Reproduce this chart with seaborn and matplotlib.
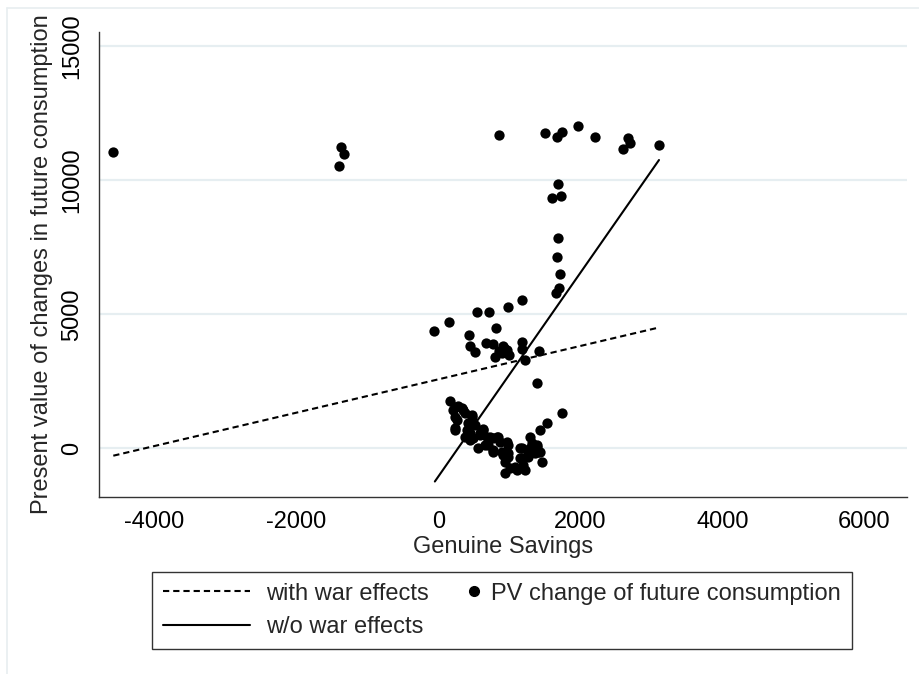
import matplotlib
matplotlib.use("Agg")
import matplotlib.pyplot as plt
import seaborn as sns
import pandas as pd
from matplotlib.lines import Line2D
from matplotlib.legend_handler import HandlerLine2D

# ---- data ----
pv_x = [-4579, -1372, -1331, -1397,
        854, 1497, 1666, 1745, 1962, 2210, 2596, 2666, 2699, 3107,
        1689, 1596, 1722, 1689, 1675, 1713, 1703, 1652,
        -58, 145, 539, 713, 976, 1173, 431, 811, 445, 515, 670, 773, 914, 970,
        892, 797, 1173, 1173, 1220, 1417, 1393, 860, 930, 1000,
        163, 234, 281, 328, 210, 351, 375, 469, 469, 258, 234, 234, 234, 399,
        421, 515, 632, 632, 445, 586, 375, 492, 586, 680, 727, 773, 821, 844,
        868, 962, 985, 445, 562, 656, 703, 773, 773, 892, 914, 985, 985, 938,
        938, 1008, 1079, 1103, 1196, 1220, 1173, 1149, 1173, 1290, 1290, 1385,
        1385, 1407, 1431, 1455, 1149, 1266, 1266, 1361, 1314, 1431, 1525, 1737]
pv_y = [11051, 11245, 10988, 10540,
        11704, 11779, 11607, 11794, 12040, 11607, 11160, 11592, 11383, 11309,
        9854, 9331, 9417, 7839, 7152, 6507, 5973, 5787,
        4391, 4727, 5078, 5100, 5287, 5537, 4220, 4503, 3820, 3608, 3921, 3895, 3820, 3671,
        3548, 3399, 3959, 3697, 3298, 3634, 2451, 3650, 3750, 3500,
        1768, 1556, 1582, 1496, 1433, 1433, 1310, 1246, 1183, 1060, 1183, 750, 686, 686,
        936, 873, 713, 686, 563, 563, 437, 377, 500, 437, 437, 377, 437, 437,
        250, 250, 127, 313, 26, 127, 127, -60, -123, -123, -246, -183, -310, -496,
        -929, -743, -683, -806, -619, -806, -369, 4, 4, 437, 4, 63,
        127, -123, -123, -496, -369, -310, -246, -183, 190, 686, 936, 1332]

war_x = [-4579, 3100]          # fitted line, with war effects
war_y = [-272, 4507]
nowar_x = [-50, 3107]          # fitted line, w/o war effects
nowar_y = [-1235, 10760]

x_ticks = [-4000, -2000, 0, 2000, 4000, 6000]
y_ticks = [0, 5000, 10000, 15000]

xlabel = "Genuine Savings"
ylabel = "Present value of changes in future consumption"
leg_labels = ["with war effects", "w/o war effects", "PV change of future consumption"]


class RightDotHandler(HandlerLine2D):
    """Place the marker at the right end of the legend handle box."""
    def create_artists(self, legend, orig_handle, xdescent, ydescent,
                       width, height, fontsize, trans):
        arts = super().create_artists(legend, orig_handle, xdescent, ydescent,
                                      width, height, fontsize, trans)
        for a in arts:
            if a.get_marker() not in (None, "None", "none", ""):
                a.set_xdata([width - xdescent - 1])
        return arts


# ---- plot ----
sns.set_theme(style="white")
plt.rcParams['font.family'] = ['Liberation Sans', 'DejaVu Sans']

W, H = 920, 674
FS = 17
fig = plt.figure(figsize=(W / 100, H / 100), dpi=100)
ax = fig.add_axes([98.6 / W, 1 - 497 / H, (906.7 - 98.6) / W, (497 - 32) / H])

pts = pd.DataFrame({"x": pv_x, "y": pv_y})
sns.scatterplot(data=pts, x="x", y="y", ax=ax, color="black", s=55,
                edgecolor="black", linewidth=0, zorder=3)
sns.lineplot(x=war_x, y=war_y, ax=ax, color="black", lw=1.5, zorder=4,
             linestyle=(0, (3.0, 1.9)))
sns.lineplot(x=nowar_x, y=nowar_y, ax=ax, color="black", lw=1.5, zorder=4)

ax.set_xlim(-4786, 6596)
ax.set_ylim(-1813, 15537)
ax.set_xticks(x_ticks)
ax.set_yticks(y_ticks)
ax.set_xticklabels([str(v) for v in x_ticks])
ax.set_yticklabels([str(v) for v in y_ticks], rotation=90, va="center")

ax.yaxis.grid(True, color="#e6eef1", lw=1.6, zorder=0)
ax.xaxis.grid(False)
for s in ["top", "right"]:
    ax.spines[s].set_visible(False)
for s in ["left", "bottom"]:
    ax.spines[s].set_color("#333333")
    ax.spines[s].set_linewidth(1.0)
ax.tick_params(axis="both", direction="out", length=7, width=1.0,
               color="#333333", labelsize=FS, labelcolor="black")
ax.tick_params(axis="x", pad=3)
ax.tick_params(axis="y", pad=4)
ax.set_xlabel(xlabel, fontsize=FS, labelpad=2)
ax.set_ylabel(ylabel, fontsize=FS, labelpad=6)

h_war = Line2D([], [], color="black", lw=1.5, linestyle=(0, (3.0, 1.9)))
h_nowar = Line2D([], [], color="black", lw=1.5)
h_pv = Line2D([], [], color="black", marker="o", linestyle="none", markersize=7)
leg = fig.legend([h_war, h_nowar, h_pv], leg_labels, loc="upper center", ncol=2,
                 bbox_to_anchor=(502 / W, 1 - 572 / H), borderaxespad=0,
                 fontsize=FS, frameon=True, fancybox=False, edgecolor="black",
                 handlelength=3.7, handletextpad=0.65, columnspacing=-1.7,
                 labelspacing=0.5, borderpad=0.45,
                 handler_map={h_pv: RightDotHandler()})
leg.get_frame().set_linewidth(1.0)

# faint outer frame (Stata-like)
fig.add_artist(Line2D([7 / W, 7 / W], [0, 1 - 8 / H], transform=fig.transFigure,
                      color="#e8eef0", lw=1.2))
fig.add_artist(Line2D([7 / W, 1], [1 - 8 / H, 1 - 8 / H], transform=fig.transFigure,
                      color="#e8eef0", lw=1.2))

fig.savefig("out.png", dpi=100)
